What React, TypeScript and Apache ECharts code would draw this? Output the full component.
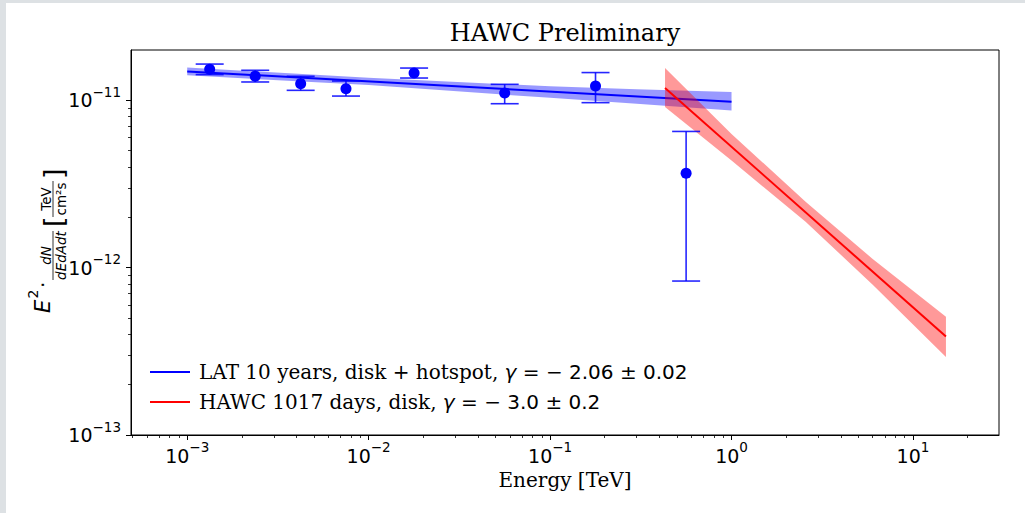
import React, { useEffect, useRef } from "react";
import * as echarts from "echarts";

// ---- data ----
const pointEnergy = [1.33e-3, 2.37e-3, 4.22e-3, 7.5e-3, 1.78e-2, 5.62e-2, 0.178, 0.562];
const pointFlux = [1.534e-11, 1.396e-11, 1.259e-11, 1.175e-11, 1.457e-11, 1.107e-11, 1.218e-11, 3.67e-12];
const pointFluxHi = [1.648e-11, 1.513e-11, 1.393e-11, 1.305e-11, 1.56e-11, 1.247e-11, 1.466e-11, 6.52e-12];
const pointFluxLo = [1.426e-11, 1.288e-11, 1.148e-11, 1.061e-11, 1.36e-11, 9.55e-12, 9.69e-12, 8.32e-13];

const latLineE = [1e-3, 1];
const latLineF = [1.49e-11, 9.82e-12];
const latBandE = [1e-3, 1e-2, 1e-1, 0.3, 1];
const latBandHi = [1.571e-11, 1.364e-11, 1.213e-11, 1.164e-11, 1.121e-11];
const latBandLo = [1.412e-11, 1.235e-11, 1.035e-11, 9.55e-12, 8.71e-12];

const hawcLineE = [0.43, 15.2];
const hawcLineF = [1.186e-11, 3.88e-13];
const hawcBandE = [0.43, 1, 2.56, 6, 15.2];
const hawcBandHi = [1.563e-11, 6.3e-12, 2.48e-12, 1.127e-12, 5.09e-13];
const hawcBandLo = [9.12e-12, 4.37e-12, 1.88e-12, 7.92e-13, 2.93e-13];

const xMajorTicks = [1e-3, 1e-2, 1e-1, 1, 10];
const yMajorTicks = [1e-13, 1e-12, 1e-11];
const xLimits = [4.9e-4, 29.8];
const yLimits = [1e-13, 2e-11];

const LAT_NAME = "LAT 10 years, disk + hotspot, γ = −2.06 ± 0.02";
const HAWC_NAME = "HAWC 1017 days, disk, γ = −3.0 ± 0.2";

const L = (v: number) => Math.log10(v);

function minorTicks(lim: number[]) {
  const out: number[] = [];
  const d0 = Math.floor(L(lim[0]));
  const d1 = Math.ceil(L(lim[1]));
  for (let d = d0; d <= d1; d++) {
    for (let m = 2; m <= 9; m++) {
      const v = m * Math.pow(10, d);
      if (v > lim[0] && v < lim[1]) out.push(L(v));
    }
  }
  return out;
}

const expLabel = (v: number) => {
  const n = Math.round(v);
  return `{b|10}{s|${n < 0 ? "−" + -n : n}}`;
};

const labelRich = {
  b: { fontFamily: "DejaVu Sans", fontSize: 19, color: "#000", lineHeight: 31, verticalAlign: "middle" },
  s: { fontFamily: "DejaVu Sans", fontSize: 13.5, color: "#000", lineHeight: 14, verticalAlign: "top" },
};

function bandRenderer(E: number[], hi: number[], lo: number[], fill: string) {
  return (params: any, api: any) => {
    if (params.dataIndex !== 0) return null;
    const pts: number[][] = [];
    for (let i = 0; i < E.length; i++) pts.push(api.coord([L(E[i]), L(hi[i])]));
    for (let i = E.length - 1; i >= 0; i--) pts.push(api.coord([L(E[i]), L(lo[i])]));
    return { type: "polygon", shape: { points: pts }, style: { fill, stroke: "none" } };
  };
}

export default function App() {
  const ref = useRef<HTMLDivElement>(null);
  useEffect(() => {
    if (!ref.current) return;
    const chart = echarts.init(ref.current, null, { renderer: "svg" });
    const fracFont = 13.5;
    const ylabel = {
      type: "group",
      x: 50,
      y: 313,
      rotation: Math.PI / 2,
      children: [
        { type: "text", x: 0, y: -7.4, style: { text: "E", fontFamily: "DejaVu Sans", fontStyle: "italic", fontSize: 21, fill: "#000", align: "left", verticalAlign: "middle" } },
        { type: "text", x: 14.5, y: -17, style: { text: "2", fontFamily: "DejaVu Sans", fontSize: 14, fill: "#000", align: "left", verticalAlign: "middle" } },
        { type: "text", x: 25, y: -7, style: { text: "·", fontFamily: "DejaVu Sans", fontSize: 20, fill: "#000", align: "left", verticalAlign: "middle" } },
        { type: "line", shape: { x1: 33, y1: 3, x2: 82, y2: 3 }, style: { stroke: "#000", lineWidth: 0.8 } },
        { type: "text", x: 57.5, y: -3.8, style: { text: "dN", fontFamily: "DejaVu Sans", fontStyle: "italic", fontSize: fracFont, fill: "#000", align: "center", verticalAlign: "middle" } },
        { type: "text", x: 57.5, y: 10.8, style: { text: "dEdAdt", fontFamily: "DejaVu Sans", fontStyle: "italic", fontSize: fracFont, fill: "#000", align: "center", verticalAlign: "middle" } },
        { type: "text", x: 86, y: 3, style: { text: "[", fontFamily: "DejaVu Sans", fontSize: 27, fill: "#000", align: "left", verticalAlign: "middle" } },
        { type: "line", shape: { x1: 96, y1: 3, x2: 132, y2: 3 }, style: { stroke: "#000", lineWidth: 0.8 } },
        { type: "text", x: 114, y: -3.8, style: { text: "TeV", fontFamily: "DejaVu Sans", fontSize: fracFont, fill: "#000", align: "center", verticalAlign: "middle" } },
        { type: "text", x: 114, y: 10.8, style: { text: "cm²s", fontFamily: "DejaVu Sans", fontSize: fracFont, fill: "#000", align: "center", verticalAlign: "middle" } },
        { type: "text", x: 134, y: 3, style: { text: "]", fontFamily: "DejaVu Sans", fontSize: 27, fill: "#000", align: "left", verticalAlign: "middle" } },
      ],
    };

    const xmin = L(xLimits[0]);
    const xmax = L(xLimits[1]);
    const ymin = L(yLimits[0]);
    const ymax = L(yLimits[1]);

    chart.setOption({
      animation: false,
      backgroundColor: "transparent",
      grid: { left: 131, right: 26, top: 50, bottom: 78, show: true, borderColor: "#000", borderWidth: 1, backgroundColor: "transparent" },
      graphic: [
        { type: "text", x: 565, y: 33, style: { text: "HAWC Preliminary", fontFamily: "DejaVu Serif", fontSize: 24, fill: "#000", align: "center", verticalAlign: "middle" } },
        ylabel,
      ],
      legend: {
        orient: "vertical",
        left: 150,
        top: 362,
        padding: 0,
        itemGap: 10,
        itemWidth: 40,
        itemHeight: 2,
        icon: "rect",
        data: [LAT_NAME, HAWC_NAME],
        formatter: (name: string) =>
          name === LAT_NAME
            ? "{t|LAT 10 years, disk + hotspot, }{g|γ}{m| = − 2.06 ± 0.02}"
            : "{t|HAWC 1017 days, disk, }{g|γ}{m| = − 3.0 ± 0.2}",
        textStyle: {
          rich: {
            t: { fontFamily: "DejaVu Serif", fontSize: 20, color: "#000", lineHeight: 22, padding: [0, 0, 0, 4] },
            g: { fontFamily: "DejaVu Sans", fontStyle: "italic", fontSize: 20, color: "#000", lineHeight: 22 },
            m: { fontFamily: "DejaVu Sans", fontSize: 20, color: "#000", lineHeight: 22 },
          },
        },
      },
      xAxis: [
        {
          type: "value",
          min: xmin,
          max: xmax,
          position: "bottom",
          axisLine: { show: true, onZero: false, lineStyle: { color: "#000", width: 1 } },
          axisTick: { show: true, length: 5, customValues: xMajorTicks.map(L), lineStyle: { color: "#000", width: 1 } },
          axisLabel: { show: true, margin: 5, customValues: xMajorTicks.map(L), formatter: expLabel, rich: labelRich },
          splitLine: { show: false },
          name: "Energy [TeV]",
          nameLocation: "middle",
          nameGap: 33,
          nameTextStyle: { fontFamily: "DejaVu Serif", fontSize: 20, color: "#000" },
        },
        {
          type: "value",
          min: xmin,
          max: xmax,
          position: "bottom",
          axisLine: { show: false, onZero: false },
          axisTick: { show: true, length: 3, customValues: minorTicks(xLimits), lineStyle: { color: "#000", width: 0.8 } },
          axisLabel: { show: false },
          splitLine: { show: false },
        },
      ],
      yAxis: [
        {
          type: "value",
          min: ymin,
          max: ymax,
          position: "left",
          axisLine: { show: true, onZero: false, lineStyle: { color: "#000", width: 1 } },
          axisTick: { show: true, length: 5, customValues: yMajorTicks.map(L), lineStyle: { color: "#000", width: 1 } },
          axisLabel: { show: true, margin: 10, customValues: yMajorTicks.map(L), formatter: expLabel, rich: labelRich },
          splitLine: { show: false },
        },
        {
          type: "value",
          min: ymin,
          max: ymax,
          position: "left",
          axisLine: { show: false, onZero: false },
          axisTick: { show: true, length: 3, customValues: minorTicks(yLimits), lineStyle: { color: "#000", width: 0.8 } },
          axisLabel: { show: false },
          splitLine: { show: false },
        },
      ],
      series: [
        {
          type: "custom",
          name: "LAT band",
          renderItem: bandRenderer(latBandE, latBandHi, latBandLo, "rgba(0,0,255,0.4)"),
          data: latBandE.map((e, i) => [L(e), L(latBandHi[i])]),
          encode: { x: 0, y: 1 },
          z: 1,
          silent: true,
        },
        {
          type: "line",
          name: LAT_NAME,
          data: latLineE.map((e, i) => [L(e), L(latLineF[i])]),
          symbol: "none",
          color: "#0000ff",
          lineStyle: { color: "#0000ff", width: 2 },
          z: 2,
        },
        {
          type: "custom",
          name: "HAWC band",
          renderItem: bandRenderer(hawcBandE, hawcBandHi, hawcBandLo, "rgba(255,0,0,0.4)"),
          data: hawcBandE.map((e, i) => [L(e), L(hawcBandHi[i])]),
          encode: { x: 0, y: 1 },
          z: 3,
          silent: true,
        },
        {
          type: "line",
          name: HAWC_NAME,
          data: hawcLineE.map((e, i) => [L(e), L(hawcLineF[i])]),
          symbol: "none",
          color: "#ff0000",
          lineStyle: { color: "#ff0000", width: 2 },
          z: 4,
        },
        {
          type: "custom",
          name: "errors",
          renderItem: (params: any, api: any) => {
            const x = api.value(0);
            const pLo = api.coord([x, api.value(1)]);
            const pHi = api.coord([x, api.value(2)]);
            const cap = 14;
            const st = { stroke: "rgba(0,0,255,0.85)", lineWidth: 1.6 };
            return {
              type: "group",
              children: [
                { type: "line", shape: { x1: pLo[0], y1: pLo[1], x2: pHi[0], y2: pHi[1] }, style: st },
                { type: "line", shape: { x1: pLo[0] - cap, y1: pLo[1], x2: pLo[0] + cap, y2: pLo[1] }, style: st },
                { type: "line", shape: { x1: pHi[0] - cap, y1: pHi[1], x2: pHi[0] + cap, y2: pHi[1] }, style: st },
              ],
            };
          },
          data: pointEnergy.map((e, i) => [L(e), L(pointFluxLo[i]), L(pointFluxHi[i])]),
          encode: { x: 0, y: [1, 2] },
          z: 5,
          silent: true,
        },
        {
          type: "scatter",
          name: "points",
          data: pointEnergy.map((e, i) => [L(e), L(pointFlux[i])]),
          symbol: "circle",
          symbolSize: 11,
          itemStyle: { color: "#0000ff", opacity: 1 },
          z: 6,
          silent: true,
        },
      ],
    });
    return () => chart.dispose();
  }, []);

  return (
    <div style={{ position: "fixed", left: 0, top: 0, width: 1025, height: 513, background: "#dde1e4" }}>
      <div style={{ position: "absolute", left: 6, top: 3, right: 0, bottom: 0, background: "#fff" }} />
      <div ref={ref} style={{ position: "absolute", left: 0, top: 0, width: 1025, height: 513 }} />
    </div>
  );
}
